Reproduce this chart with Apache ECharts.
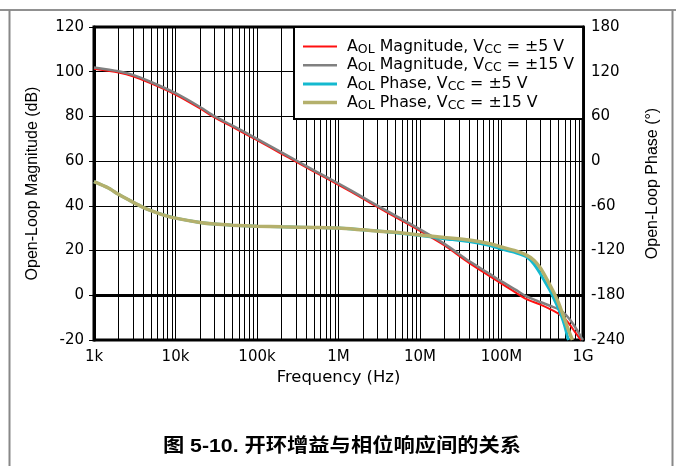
<!DOCTYPE html>
<html>
<head>
<meta charset="utf-8">
<script src="https://cdn.jsdelivr.net/npm/echarts@6/dist/echarts.min.js"></script>
<style>
  html, body { margin: 0; padding: 0; background: #fff; }
  #chart { width: 676px; height: 466px; }
</style>
</head>
<body>
<div id="chart"></div>
<script>
// Frequency grid (Hz) for the magnitude curves
const freqMag = [1e3, 2e3, 3e3, 5e3, 1e4, 2e4, 3e4, 5e4, 1e5, 2e5, 3e5, 5e5, 1e6, 2e6, 3e6, 5e6,
  1e7, 2e7, 4e7, 7e7, 1e8, 1.5e8, 2e8, 3e8, 4e8, 5e8, 6e8, 7e8, 8e8, 9e8, 9.5e8, 1e9];

// Open-loop magnitude (dB)
const magVcc5 = [101.3, 99.6, 98.0, 94.8, 89.8, 83.6, 79.6, 75.3, 69.4, 63.3, 59.8, 55.3, 49.4, 43.2, 39.5, 35.0,
  28.8, 22.3, 14.5, 8.8, 5.2, 1.2, -1.6, -4.2, -6.3, -8.2, -10.5, -13.5, -16.5, -19.0, -20, null];
const magVcc15 = [101.9, 100.2, 98.6, 95.4, 90.4, 84.2, 80.1, 75.9, 70.0, 63.9, 60.4, 55.9, 50.0, 43.8, 40.1, 35.6,
  29.5, 23.0, 15.3, 9.8, 6.2, 2.4, -0.4, -3.0, -4.8, -6.2, -8.3, -11.2, -14.2, -17.3, -18.8, -20];

// Open-loop phase (degrees)
const freqPhase5 = [1e3, 1.5e3, 2e3, 3e3, 4e3, 5e3, 7e3, 1e4, 2e4, 3e4, 5e4, 1e5, 2e5, 5e5, 1e6, 2e6, 5e6,
  1e7, 2e7, 4e7, 7e7, 1e8, 1.5e8, 2e8, 2.5e8, 3e8, 3.5e8, 4e8, 4.5e8, 5e8, 5.5e8, 6e8, 6.5e8, 6.65e8];
const phaseVcc5 = [-27.5, -36, -44.5, -55, -62, -66.5, -72, -76.5, -82.3, -84.5, -86, -87.3, -88.2, -89, -89.8, -92.3, -96,
  -99.8, -104, -108, -113, -118, -123, -128, -138, -151, -164, -175, -187, -198, -209, -222, -237, -240];
const freqPhase15 = [1e3, 1.5e3, 2e3, 3e3, 4e3, 5e3, 7e3, 1e4, 2e4, 3e4, 5e4, 1e5, 2e5, 5e5, 1e6, 2e6, 5e6,
  1e7, 2e7, 4e7, 7e7, 1e8, 1.5e8, 2e8, 2.5e8, 3e8, 3.5e8, 4e8, 4.5e8, 5e8, 5.5e8, 6e8, 6.5e8, 7e8, 7.4e8];
const phaseVcc15 = [-27.5, -36, -44.5, -55, -62, -66.5, -72, -76.5, -82.3, -84.5, -86, -87.3, -88.2, -89, -89.8, -92.2, -95.5,
  -99, -102.5, -105.8, -110.5, -115.2, -120.5, -125.8, -133, -143.5, -156, -168, -179, -190, -202, -213, -224, -233, -240];

// Axis tick labels
const freqTickLabels = ['1k', '10k', '100k', '1M', '10M', '100M', '1G'];
const seriesNames = ['AOL Magnitude, VCC = ±5 V', 'AOL Magnitude, VCC = ±15 V', 'AOL Phase, VCC = ±5 V', 'AOL Phase, VCC = ±15 V'];
const legendRich = [
  '{g|}{a|A}{s|OL}{a| Magnitude, V}{s|CC}{a| = ±5 V}',
  '{g|}{a|A}{s|OL}{a| Magnitude, V}{s|CC}{a| = ±15 V}',
  '{g|}{a|A}{s|OL}{a| Phase, V}{s|CC}{a| = ±5 V}',
  '{g|}{a|A}{s|OL}{a| Phase, V}{s|CC}{a| = ±15 V}'
];
const captionText = '图 5-10. 开环增益与相位响应间的关系';

const FONT = '"DejaVu Sans", sans-serif';
const FONT_NAME = '"Liberation Sans", Arial, sans-serif';

// series styling
const colors = ['#ff1010', '#808080', '#14b9cf', '#b4b06c'];
const widths = [2, 2.5, 3, 3.5];

// minor log gridlines at 2..9 of each decade
const minorFreqs = [];
for (let d = 3; d < 9; d++) {
  for (let m = 2; m <= 9; m++) minorFreqs.push(m * Math.pow(10, d));
}

const pairs = (xs, ys) => xs.map((x, i) => [x, ys[i]]).filter(p => p[1] !== null);

const chart = echarts.init(document.getElementById('chart'), null, { renderer: 'canvas' });

const axisText = { color: '#000', fontFamily: FONT, fontSize: 15 };
const nameText = { color: '#000', fontFamily: FONT_NAME, fontSize: 16 };

const lineSeries = (i, xs, ys, yAxisIndex) => ({
  type: 'line', name: seriesNames[i], yAxisIndex, z: 3 + i,
  data: pairs(xs, ys), showSymbol: false, symbol: 'none', smooth: 0.25,
  lineStyle: { color: colors[i], width: widths[i] }, itemStyle: { color: colors[i] }
});

chart.setOption({
  animation: false,
  backgroundColor: '#fff',
  grid: { left: 94, right: 93, top: 27, bottom: 126, show: true, borderColor: '#000', borderWidth: 3, backgroundColor: 'transparent' },
  legend: {
    orient: 'vertical',
    left: 294, top: 27,
    padding: [11.5, 9, 7, 9],
    itemWidth: 34, itemHeight: 14, itemGap: 1.2,
    backgroundColor: '#fff', borderColor: '#000', borderWidth: 2,
    data: seriesNames.map((n, i) => ({
      name: n,
      icon: 'path://M0,0H34V' + widths[i] + 'H0Z',
      itemStyle: { color: colors[i] }
    })),
    formatter: name => legendRich[seriesNames.indexOf(name)],
    textStyle: {
      color: '#000', fontFamily: FONT,
      rich: {
        g: { width: 5 },
        a: { fontSize: 15.8, fontFamily: FONT, color: '#000', lineHeight: 19, verticalAlign: 'middle' },
        s: { fontSize: 12.5, fontFamily: FONT, color: '#000', lineHeight: 12.5, verticalAlign: 'bottom' }
      }
    }
  },
  xAxis: {
    type: 'log', logBase: 10, min: 1e3, max: 1e9,
    name: 'Frequency (Hz)', nameLocation: 'middle', nameGap: 29,
    nameTextStyle: { ...axisText, fontSize: 16.4 },
    axisLine: { show: true, lineStyle: { color: '#000', width: 3 } },
    axisTick: { show: false },
    axisLabel: { ...axisText, margin: 10, formatter: v => freqTickLabels[Math.round(Math.log10(v)) - 3] },
    splitLine: { show: true, lineStyle: { color: '#000', width: 1 } },
    minorTick: { show: false }, minorSplitLine: { show: false }
  },
  yAxis: [
    {
      type: 'value', min: -20, max: 120, interval: 20, position: 'left',
      name: 'Open-Loop Magnitude (dB)', nameLocation: 'middle', nameGap: 53, nameRotate: 90,
      nameTextStyle: nameText,
      axisLine: { show: true, lineStyle: { color: '#000', width: 3 } },
      axisTick: { show: true, inside: false, length: 5, lineStyle: { color: '#000', width: 1 } },
      axisLabel: { ...axisText, margin: 10 },
      splitLine: { show: true, lineStyle: { color: '#000', width: 1 } }
    },
    {
      type: 'value', min: -240, max: 180, interval: 60, position: 'right',
      name: 'Open-Loop Phase (°)', nameLocation: 'middle', nameGap: 62, nameRotate: 90,
      nameTextStyle: nameText,
      axisLine: { show: true, lineStyle: { color: '#000', width: 3 } },
      axisTick: { show: false },
      axisLabel: { ...axisText, margin: 8 },
      splitLine: { show: false }
    }
  ],
  series: [
    {
      type: 'line', name: '_minorGrid', data: [], z: 1, silent: true,
      markLine: {
        silent: true, z: 1, symbol: ['none', 'none'], animation: false,
        label: { show: false },
        lineStyle: { color: '#000', width: 1, type: 'solid' },
        emphasis: { disabled: true },
        data: minorFreqs.map(f => ({ xAxis: f }))
      }
    },
    lineSeries(0, freqMag, magVcc5, 0),
    lineSeries(1, freqMag, magVcc15, 0),
    lineSeries(2, freqPhase5, phaseVcc5, 1),
    lineSeries(3, freqPhase15, phaseVcc15, 1)
  ],
  graphic: [
    { type: 'line', shape: { x1: 0, y1: 10, x2: 676, y2: 10 }, style: { stroke: '#222', lineWidth: 1 }, silent: true },
    { type: 'line', shape: { x1: 9.5, y1: 10, x2: 9.5, y2: 466 }, style: { stroke: '#888', lineWidth: 2 }, silent: true },
    { type: 'line', shape: { x1: 672.5, y1: 10, x2: 672.5, y2: 466 }, style: { stroke: '#888', lineWidth: 2 }, silent: true },
    {
      type: 'text', x: 342, y: 447, scaleX: 1.12, silent: true,
      style: {
        text: captionText, fill: '#000', align: 'center', verticalAlign: 'middle',
        font: 'bold 19px "Liberation Sans", "Noto Sans CJK SC", sans-serif'
      }
    }
  ]
});
</script>
</body>
</html>
